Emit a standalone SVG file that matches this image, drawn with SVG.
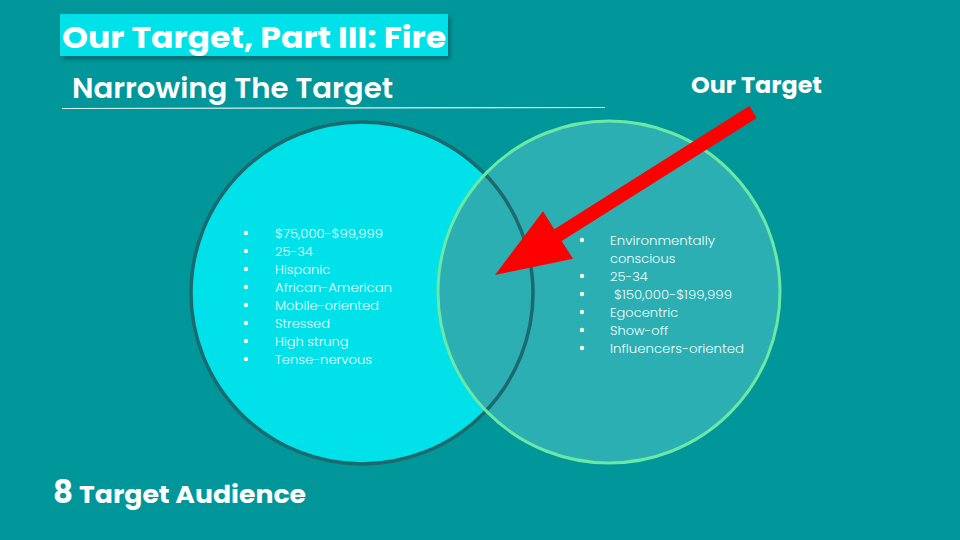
<svg xmlns="http://www.w3.org/2000/svg" width="960" height="540" viewBox="0 0 960 540">
<defs>
<style>
.title{font-family:"Poppins","Inter","Liberation Sans",sans-serif;font-weight:700;fill:#ffffff}
.sub{font-family:"Poppins","Inter","Liberation Sans",sans-serif;font-weight:600;fill:#ffffff}
.item{font-family:"Poppins","Open Sans","Liberation Sans",sans-serif;font-weight:300;font-size:13px;fill:#F0FFFF}
.dot{fill:#ffffff}
</style>
<filter id="sh" x="-10%" y="-30%" width="130%" height="180%">
<feDropShadow dx="2" dy="3" stdDeviation="2" flood-color="#004a4c" flood-opacity="0.6"/>
</filter>
</defs>
<rect width="960" height="540" fill="#00969A"/>

<g id="title">
<rect x="60" y="14" width="388" height="42" fill="#00E1E9" filter="url(#sh)"/>
<text class="title" x="62" y="48" font-size="30" textLength="384" lengthAdjust="spacingAndGlyphs">Our Target, Part III: Fire</text>
</g>
<g id="subtitle">
<text class="sub" x="72" y="98" font-size="28" textLength="321" lengthAdjust="spacingAndGlyphs">Narrowing The Target</text>
<line x1="62" y1="108.5" x2="605" y2="107.5" stroke="#ffffff" stroke-opacity="0.85" stroke-width="1.2"/>
</g>

<g id="circle-left">
<circle cx="362" cy="293" r="171" fill="#00E1E9"/>
</g>
<g id="circle-right">
<circle cx="609" cy="292" r="171" fill="#2BAFB3"/>
</g>
<g id="circle-strokes">
<circle cx="362" cy="293" r="171" fill="none" stroke="#1B6A6D" stroke-width="3.5"/>
<circle cx="609" cy="292" r="171" fill="none" stroke="#6AE8A6" stroke-width="3"/>
</g>

<g id="list-left">
<circle class="dot" cx="246" cy="233" r="2.2"/>
<circle class="dot" cx="246" cy="251" r="2.2"/>
<circle class="dot" cx="246" cy="269" r="2.2"/>
<circle class="dot" cx="246" cy="287" r="2.2"/>
<circle class="dot" cx="246" cy="305" r="2.2"/>
<circle class="dot" cx="246" cy="323" r="2.2"/>
<circle class="dot" cx="246" cy="341" r="2.2"/>
<circle class="dot" cx="246" cy="359" r="2.2"/>
<text class="item" x="275" y="238" textLength="108" lengthAdjust="spacingAndGlyphs">$75,000-$99,999</text>
<text class="item" x="275" y="256">25-34</text>
<text class="item" x="275" y="274">Hispanic</text>
<text class="item" x="275" y="292" textLength="117" lengthAdjust="spacingAndGlyphs">African-American</text>
<text class="item" x="275" y="310" textLength="104" lengthAdjust="spacingAndGlyphs">Mobile-oriented</text>
<text class="item" x="275" y="328">Stressed</text>
<text class="item" x="275" y="346">High strung</text>
<text class="item" x="275" y="364" textLength="97" lengthAdjust="spacingAndGlyphs">Tense-nervous</text>
</g>

<g id="list-right">
<circle class="dot" cx="582" cy="240" r="2.2"/>
<circle class="dot" cx="582" cy="276" r="2.2"/>
<circle class="dot" cx="582" cy="294" r="2.2"/>
<circle class="dot" cx="582" cy="312" r="2.2"/>
<circle class="dot" cx="582" cy="330" r="2.2"/>
<circle class="dot" cx="582" cy="348" r="2.2"/>
<text class="item" x="610" y="245" textLength="105" lengthAdjust="spacingAndGlyphs">Environmentally</text>
<text class="item" x="610" y="263">conscious</text>
<text class="item" x="610" y="281">25-34</text>
<text class="item" x="614" y="299" textLength="118" lengthAdjust="spacingAndGlyphs">$150,000-$199,999</text>
<text class="item" x="610" y="317">Egocentric</text>
<text class="item" x="610" y="335">Show-off</text>
<text class="item" x="610" y="353" textLength="134" lengthAdjust="spacingAndGlyphs">Influencers-oriented</text>
</g>

<g id="our-target-label">
<text class="title" x="691" y="93" font-size="22" textLength="131" lengthAdjust="spacingAndGlyphs">Our Target</text>
</g>

<g id="connectors">
<polygon points="749.3,106.1 554.3,229.2 543,211.3 495,275 573,258.7 561.7,241 756.7,117.9" fill="#FF0000"/>
</g>

<g id="footer">
<text class="title" x="53" y="503" font-size="31">8</text>
<text class="title" x="79" y="503" font-size="24" textLength="227" lengthAdjust="spacingAndGlyphs">Target Audience</text>
</g>
</svg>
